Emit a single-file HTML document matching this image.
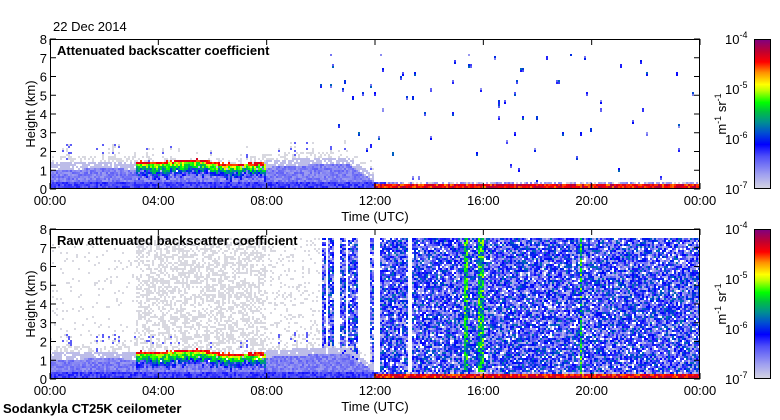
<!DOCTYPE html>
<html><head><meta charset="utf-8"><style>
html,body{margin:0;padding:0;background:#fff;}
#wrap{position:relative;width:780px;height:420px;overflow:hidden;font-family:"Liberation Sans",sans-serif;}
canvas{position:absolute;left:0;top:0;image-rendering:pixelated;}
svg{position:absolute;left:0;top:0;}
text{font-family:"Liberation Sans",sans-serif;font-size:13px;fill:#000;}
</style></head><body>
<div id="wrap">
<canvas id="cv" width="780" height="420"></canvas>
<svg id="ov" width="780" height="420"></svg>
</div>
<script>
// ---- data ----
const hourKnots = [0,1,2,3,4,5,6,7,8,9,10,11,12,13,14,15,16,17,18,19,20,21,22,23,24];
const layerTopKm = [1.0,1.0,1.05,1.0,0.9,0.9,0.9,0.85,1.1,1.2,1.25,1.3,0.3,0.25,0.25,0.25,0.25,0.25,0.25,0.25,0.25,0.25,0.25,0.25,0.25];
const cloudStartH = 3.2, cloudEndH = 8.0;
const cloudTopKnots = [3,4,5,5.5,6,6.5,7,7.5,8];
const cloudTopKm = [1.45,1.4,1.5,1.55,1.4,1.3,1.3,1.35,1.35];
const stripeStarts = [10.04,10.3,10.7,11.0,11.85,12.2,13.33];
const stripeEnds   = [10.2,10.45,10.9,11.4,11.97,13.2,24.0];
const greenStripeStarts = [15.32,15.77,19.57];
const greenStripeEnds   = [15.47,16.06,19.65];
const greySegStarts = [0,3.2,8.0];
const greySegEnds   = [3.2,8.0,10.0];
const greySegDensity= [0.07,0.5,0.15];
const timeTickLabels = ["00:00","04:00","08:00","12:00","16:00","20:00","00:00"];
const heightTicks = [0,1,2,3,4,5,6,7,8];
const cbarExponents = [-7,-6,-5,-4];

// ---- geometry ----
const X0=50,X1=700;
const panels=[{top:39,bot:189,raw:false},{top:229,bot:379,raw:true}];
const xOf=t=>X0+t/24*(X1-X0);
function interp(xs,ys,x){if(x<=xs[0])return ys[0];for(let i=1;i<xs.length;i++){if(x<=xs[i]){const f=(x-xs[i-1])/(xs[i]-xs[i-1]);return ys[i-1]+f*(ys[i]-ys[i-1]);}}return ys[ys.length-1];}
function hs(a,b,c){let h=(a*374761393+b*668265263+c*2147483647)|0;h=(h^(h>>>13))*1274126177|0;h=h^(h>>>16);return (h>>>0)/4294967296;}
const stops=[[0,216,216,224],[0.1,160,160,240],[0.22,80,80,248],[0.3,0,0,255],[0.38,0,80,208],[0.45,0,144,144],[0.52,0,192,64],[0.58,0,255,0],[0.66,192,255,0],[0.7,255,255,0],[0.78,255,144,0],[0.85,255,0,0],[0.92,192,0,48],[1,128,0,128]];
function cmap(v){let f=Math.max(0,Math.min(1,(v+7)/3));for(let i=1;i<stops.length;i++){if(f<=stops[i][0]){const a=stops[i-1],b=stops[i],g=(f-a[0])/(b[0]-a[0]);return [a[1]+g*(b[1]-a[1]),a[2]+g*(b[2]-a[2]),a[3]+g*(b[3]-a[3])];}}return [128,0,128];}
function inSeg(t,s,e){for(let i=0;i<s.length;i++)if(t>=s[i]&&t<e[i])return i;return -1;}

function value(t,h,ci,ri,raw){
  const n=hs(ci,ri,raw?7:3), n2=hs(ci,ri,11), col=hs(ci,0,5);
  const lt=interp(hourKnots,layerTopKm,t);
  if(t>=cloudStartH&&t<=cloudEndH){
    const cb=interp(cloudTopKnots,cloudTopKm,t)+(n2-0.5)*0.08;
    if(h<=cb&&h>cb-0.13)return -4.45+(n-0.5)*0.3;
    const depth=0.55+hs(ci,1,23)*0.35;
    if(h<=cb-0.13&&h>cb-0.13-depth&&n2>0.08){const f=(cb-0.13-h)/depth;return -4.9-f*1.6+(n-0.5)*0.6;}
  }
  if(t>=12){
    if(h<0.2)return -4.4+(n-0.5)*0.5;
    if(h<0.35&&n<0.6)return -6.8+(n2-0.5)*0.6;
  }
  if(h<lt){ return (h<0.3?-6.3:-6.55)+(n-0.5)*0.3; }
  if(t<12&&h<lt+0.35&&n<0.8)return -6.85;
  if(t<12&&h<lt+0.7&&n<0.35)return -7.05;
  if(t<12&&col<0.12&&h<lt+1.3&&n<0.5)return n2<0.5?-6.4:-7;
  if(raw){
    if(h<7.5){
      const g=inSeg(t,greenStripeStarts,greenStripeEnds);
      if(g>=0)return -5.5+(n-0.5)*1.0;
      const s=inSeg(t,stripeStarts,stripeEnds);
      if(s>=0){ if(n<0.08)return null; return -6.3+(n2-0.5)*1.1; }
      const gs=inSeg(t,greySegStarts,greySegEnds);
      if(gs>=0&&n<greySegDensity[gs])return -7.05;
    }
  } else {
    if(t>=10&&h<7.2&&hs(ci,Math.floor(ri/2),17)<0.012)return -6.4+(n-0.3)*0.9;
  }
  return null;
}

const cv=document.getElementById('cv');const ctx=cv.getContext('2d');
const img=ctx.createImageData(780,420);
for(let i=0;i<img.data.length;i+=4){img.data[i]=img.data[i+1]=img.data[i+2]=img.data[i+3]=255;}
const CW=2,CH=2;
panels.forEach(p=>{
  const rows=Math.ceil((p.bot-p.top)/CH), cols=Math.ceil((X1-X0)/CW);
  for(let ci=0;ci<cols;ci++){
    const t=(ci+0.5)*CW/(X1-X0)*24;
    for(let ri=0;ri<rows;ri++){
      const h=(ri+0.5)*CH/(p.bot-p.top)*8;
      const v=value(t,h,ci,ri,p.raw);
      if(v===null)continue;
      const c=cmap(v);
      for(let dx=0;dx<CW;dx++)for(let dy=0;dy<CH;dy++){
        const x=X0+ci*CW+dx, y=p.bot-2-ri*CH-dy;
        if(x>=X1||y<p.top)continue;
        const k=(y*780+x)*4;img.data[k]=c[0];img.data[k+1]=c[1];img.data[k+2]=c[2];
      }
    }
  }
  for(let y=p.top;y<p.bot;y++){
    const v=-4-(y-p.top)/(p.bot-p.top)*3;const c=cmap(v);
    for(let x=754;x<771;x++){const k=(y*780+x)*4;img.data[k]=c[0];img.data[k+1]=c[1];img.data[k+2]=c[2];}
  }
});
ctx.putImageData(img,0,0);

// ---- overlay ----
const NS='http://www.w3.org/2000/svg';const ov=document.getElementById('ov');
function el(tag,attrs,txt){const e=document.createElementNS(NS,tag);for(const k in attrs)e.setAttribute(k,attrs[k]);if(txt!==undefined)e.textContent=txt;ov.appendChild(e);return e;}
const titles=["Attenuated backscatter coefficient","Raw attenuated backscatter coefficient"];
panels.forEach((p,pi)=>{
  const fr=el('rect',{x:X0+0.5,y:p.top+0.5,width:X1-X0-1,height:p.bot-p.top-1,fill:'none',stroke:'#000','stroke-width':1});
  
  const ph=(p.bot-p.top)/8;
  heightTicks.forEach(k=>{
    const y=p.bot-k*ph;
    el('line',{x1:X0,x2:X0+6,y1:y,y2:y,stroke:'#000'});
    el('line',{x1:X1-6,x2:X1,y1:y,y2:y,stroke:'#000'});
    const tl=el('text',{x:X0-3,y:y+5,'text-anchor':'end'},String(k));
    
  });
  timeTickLabels.forEach((lab,i)=>{
    const x=xOf(i*4);
    el('line',{x1:x,x2:x,y1:p.bot-6,y2:p.bot,stroke:'#000'});
    el('line',{x1:x,x2:x,y1:p.top,y2:p.top+6,stroke:'#000'});
    const tl=el('text',{x:x,y:p.bot+16,'text-anchor':'middle'},lab);
    
  });
  const xt=el('text',{x:375,y:p.bot+32,'text-anchor':'middle'},'Time (UTC)');
  
  const yt=el('text',{x:0,y:0,'text-anchor':'middle',transform:`translate(35,${(p.top+p.bot)/2}) rotate(-90)`},'Height (km)');
  
  const tt=el('text',{x:57,y:p.top+16,'font-weight':'bold','font-size':'12.6'},titles[pi]);
  
  const cb=el('rect',{x:754.5,y:p.top+0.5,width:16,height:p.bot-p.top-1,fill:'none',stroke:'#000'});
  
  cbarExponents.forEach(e=>{
    const y=p.bot-(e+7)/3*(p.bot-p.top);
    const t=el('text',{x:725,y:y+5},'10');
    
    const s=document.createElementNS(NS,'tspan');s.setAttribute('dy','-6');s.setAttribute('font-size','9');s.textContent='-'+Math.abs(e);t.appendChild(s);
  });
  const u=el('text',{x:0,y:0,'text-anchor':'middle',transform:`translate(726,${(p.top+p.bot)/2}) rotate(-90)`});
  
  u.innerHTML='m<tspan dy="-5" font-size="9">-1</tspan><tspan dy="5"> sr</tspan><tspan dy="-5" font-size="9">-1</tspan>';
});
const d=el('text',{x:53,y:31},'22 Dec 2014');

const s=el('text',{x:3,y:413,'font-weight':'bold'},'Sodankyla CT25K ceilometer');

</script>
</body></html>
